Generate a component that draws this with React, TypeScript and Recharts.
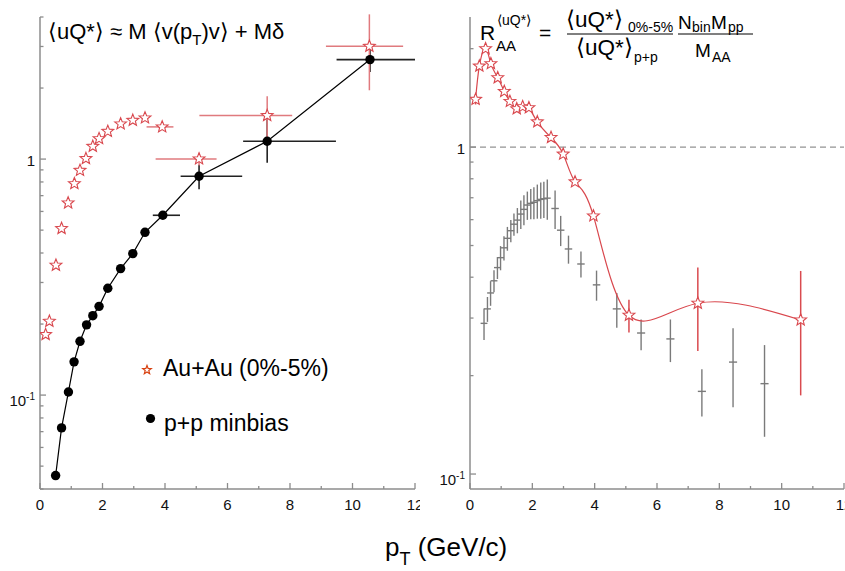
import React from 'react';
import { ComposedChart, Scatter, Line, XAxis, YAxis, ErrorBar, ReferenceLine } from 'recharts';

// ---------- Left panel: <uQ*> vs pT ----------
const auPt = [0.18, 0.3, 0.51, 0.69, 0.9, 1.1, 1.28, 1.47, 1.69, 1.89, 2.17, 2.58, 2.97, 3.36, 3.91, 5.09, 7.27, 10.54];
const auVal = [0.1805, 0.2055, 0.355, 0.508, 0.652, 0.787, 0.896, 1.005, 1.133, 1.221, 1.311, 1.41, 1.46, 1.495, 1.369, 1.002, 1.529, 3.005];
const auXErrLow = [0, 0, 0, 0, 0, 0, 0, 0, 0, 0, 0, 0, 0, 0, 0.5, 1.39, 2.17, 1.39];
const auXErrHigh = [0, 0, 0, 0, 0, 0, 0, 0, 0, 0, 0, 0, 0, 0, 0.36, 0.56, 0.8, 1.08];
const auYErrLow = [0, 0, 0, 0, 0, 0, 0, 0, 0, 0, 0, 0, 0, 0, 0, 0.062, 0.319, 1.048];
const auYErrHigh = [0, 0, 0, 0, 0, 0, 0, 0, 0, 0, 0, 0, 0, 0, 0, 0.063, 0.317, 1.1];

const ppPt = [0.5, 0.69, 0.91, 1.09, 1.28, 1.49, 1.69, 1.89, 2.17, 2.58, 2.97, 3.36, 3.93, 5.09, 7.27, 10.56];
const ppVal = [0.0456, 0.0726, 0.1031, 0.1383, 0.169, 0.1984, 0.217, 0.2377, 0.2836, 0.3436, 0.3977, 0.4895, 0.578, 0.8455, 1.19, 2.64];
const ppXErrLow = [0, 0, 0, 0, 0, 0, 0, 0, 0.07, 0.07, 0.07, 0.07, 0.32, 0.59, 0.77, 1.07];
const ppXErrHigh = [0, 0, 0, 0, 0, 0, 0, 0, 0.07, 0.07, 0.07, 0.07, 0.55, 1.38, 2.2, 1.44];
const ppYErrLow = [0, 0, 0, 0, 0, 0, 0, 0, 0, 0, 0, 0, 0, 0.1, 0.226, 0.3];
const ppYErrHigh = [0, 0, 0, 0, 0, 0, 0, 0, 0, 0, 0, 0, 0, 0.1, 0.28, 0.3];

// ---------- Right panel: R_AA ----------
const raaPt = [0.18, 0.3, 0.5, 0.67, 0.89, 1.1, 1.28, 1.5, 1.69, 1.89, 2.16, 2.6, 2.99, 3.37, 3.96, 5.1, 7.31, 10.61];
const raaVal = [1.4, 1.77, 2.0, 1.8, 1.63, 1.48, 1.38, 1.31, 1.33, 1.32, 1.195, 1.07, 0.952, 0.783, 0.616, 0.306, 0.333, 0.296];
const raaErr = [0.05, 0, 0, 0, 0, 0, 0, 0, 0, 0, 0, 0, 0, 0, 0, 0.035, 0.095, 0.122];

const grayPt = [0.45, 0.56, 0.66, 0.77, 0.88, 0.98, 1.09, 1.2, 1.31, 1.41, 1.52, 1.63, 1.73, 1.84, 1.95, 2.05, 2.16, 2.27, 2.37, 2.48, 2.73, 2.91, 3.16, 3.56, 4.06, 4.71, 5.49, 6.43, 7.44, 8.44, 9.45];
const grayVal = [0.289, 0.32, 0.358, 0.39, 0.428, 0.459, 0.492, 0.526, 0.555, 0.581, 0.598, 0.624, 0.645, 0.665, 0.673, 0.678, 0.686, 0.692, 0.695, 0.698, 0.649, 0.557, 0.488, 0.439, 0.379, 0.32, 0.27, 0.259, 0.179, 0.22, 0.189];
const grayErrLow = [0.032, 0.028, 0.031, 0.03, 0.033, 0.039, 0.042, 0.044, 0.043, 0.045, 0.053, 0.062, 0.068, 0.066, 0.071, 0.076, 0.082, 0.088, 0.088, 0.098, 0.087, 0.059, 0.048, 0.04, 0.04, 0.04, 0.031, 0.039, 0.029, 0.06, 0.059];
const grayErrHigh = [0.032, 0.028, 0.031, 0.03, 0.033, 0.039, 0.042, 0.044, 0.043, 0.045, 0.053, 0.062, 0.068, 0.066, 0.071, 0.076, 0.082, 0.088, 0.088, 0.098, 0.087, 0.059, 0.048, 0.04, 0.04, 0.038, 0.027, 0.038, 0.03, 0.059, 0.059];
const grayXErr = [0.11, 0.11, 0.11, 0.11, 0.11, 0.11, 0.11, 0.11, 0.11, 0.11, 0.11, 0.11, 0.11, 0.11, 0.11, 0.11, 0.11, 0.11, 0.11, 0.11, 0.12, 0.12, 0.12, 0.12, 0.12, 0.13, 0.13, 0.13, 0.13, 0.13, 0.13];

// ---------- Ticks ----------
const xTicks = [0, 1, 2, 3, 4, 5, 6, 7, 8, 9, 10, 11, 12];
const leftYTicks = [0.04, 0.05, 0.06, 0.07, 0.08, 0.09, 0.1, 0.2, 0.3, 0.4, 0.5, 0.6, 0.7, 0.8, 0.9, 1, 2, 3, 4];
const rightYTicks = [0.1, 0.2, 0.3, 0.4, 0.5, 0.6, 0.7, 0.8, 0.9, 1, 2];

const auData = auPt.map((x, i) => ({ x, y: auVal[i], ex: [auXErrLow[i], auXErrHigh[i]], ey: [auYErrLow[i], auYErrHigh[i]] }));
const ppData = ppPt.map((x, i) => ({ x, y: ppVal[i], ex: [ppXErrLow[i], ppXErrHigh[i]], ey: [ppYErrLow[i], ppYErrHigh[i]] }));
const raaData = raaPt.map((x, i) => ({ x, y: raaVal[i], ey: raaErr[i] }));
const grayData = grayPt.map((x, i) => ({ x, y: grayVal[i], ex: grayXErr[i], ey: [grayErrLow[i], grayErrHigh[i]] }));

const FONT = '"Liberation Sans", Arial, Helvetica, sans-serif';
const AXIS = '#8c8c8c';
const RED = '#d9474d';
const RED_LIGHT = '#e07a7e';

function starPath(cx: number, cy: number, R: number, r: number) {
  let d = '';
  for (let i = 0; i < 10; i++) {
    const rad = i % 2 === 0 ? R : r;
    const a = -Math.PI / 2 + (i * Math.PI) / 5;
    d += (i === 0 ? 'M' : 'L') + (cx + rad * Math.cos(a)).toFixed(2) + ',' + (cy + rad * Math.sin(a)).toFixed(2);
  }
  return d + 'Z';
}

const StarShape = (props: any) => {
  const { cx, cy } = props;
  if (cx == null || cy == null) return <g />;
  return <path d={starPath(cx, cy, 6.2, 2.7)} fill="#fff" stroke={RED} strokeWidth={1.1} />;
};

const DotShape = (props: any) => {
  const { cx, cy } = props;
  if (cx == null || cy == null) return <g />;
  return <circle cx={cx} cy={cy} r={4.7} fill="#000" />;
};

const NoShape = () => <g />;

const XTick = (props: any) => {
  const { x, y, payload } = props;
  const v = payload.value;
  const major = v % 2 === 0;
  return (
    <g>
      <line x1={x} x2={x} y1={y} y2={y - (major ? 6 : 3)} stroke={AXIS} strokeWidth={1.3} />
      {major && (
        <text x={x} y={y + 21} textAnchor="middle" fontSize={15} fontFamily={FONT} fill="#111">
          {v}
        </text>
      )}
    </g>
  );
};

const YTick = (props: any) => {
  const { x, y, payload } = props;
  const v = payload.value;
  const lg = Math.log10(v);
  const decade = Math.abs(lg - Math.round(lg)) < 1e-6;
  return (
    <g>
      <line x1={x} x2={x + (decade ? 6 : 3.5)} y1={y} y2={y} stroke={AXIS} strokeWidth={1.3} />
      {decade && v === 1 && (
        <text x={x - 5} y={y + 7} textAnchor="end" fontSize={15} fontFamily={FONT} fill="#111">
          1
        </text>
      )}
      {decade && v !== 1 && (
        <text x={x - 5} y={y + 10.5} textAnchor="end" fontSize={15} fontFamily={FONT} fill="#111">
          <tspan>10</tspan>
          <tspan dy={-6} fontSize={10}>-1</tspan>
        </text>
      )}
    </g>
  );
};

const axisLineStyle = { stroke: AXIS, strokeWidth: 1.5 };

function LeftPanel() {
  return (
    <ComposedChart width={420} height={571} margin={{ top: 17, right: 5, bottom: 52, left: 10 }}>
      <XAxis
        type="number"
        dataKey="x"
        domain={[0, 12]}
        ticks={xTicks}
        interval={0}
        height={30}
        tickSize={0}
        tickMargin={0}
        tickLine={false}
        axisLine={axisLineStyle}
        tick={<XTick />}
        allowDataOverflow
      />
      <YAxis
        type="number"
        dataKey="y"
        scale="log"
        domain={[0.04, 4]}
        ticks={leftYTicks}
        interval={0}
        width={30}
        tickSize={0}
        tickMargin={0}
        tickLine={false}
        axisLine={axisLineStyle}
        tick={<YTick />}
        allowDataOverflow
      />
      <Line data={ppData} dataKey="y" type="linear" stroke="#000" strokeWidth={1.2} dot={false} isAnimationActive={false} />
      <Scatter data={ppData} dataKey="y" shape={DotShape} isAnimationActive={false}>
        <ErrorBar dataKey="ex" direction="x" width={0} stroke="#222" strokeWidth={1.6} />
        <ErrorBar dataKey="ey" direction="y" width={0} stroke="#222" strokeWidth={1.6} />
      </Scatter>
      <Scatter data={auData} dataKey="y" shape={StarShape} isAnimationActive={false}>
        <ErrorBar dataKey="ex" direction="x" width={0} stroke={RED_LIGHT} strokeWidth={1.5} />
        <ErrorBar dataKey="ey" direction="y" width={0} stroke={RED_LIGHT} strokeWidth={1.5} />
      </Scatter>
    </ComposedChart>
  );
}

function RightPanel() {
  return (
    <ComposedChart width={425} height={571} margin={{ top: 17, right: 1, bottom: 52, left: 20 }}>
      <XAxis
        type="number"
        dataKey="x"
        domain={[0, 12]}
        ticks={xTicks}
        interval={0}
        height={30}
        tickSize={0}
        tickMargin={0}
        tickLine={false}
        axisLine={axisLineStyle}
        tick={<XTick />}
        allowDataOverflow
      />
      <YAxis
        type="number"
        dataKey="y"
        scale="log"
        domain={[0.09, 2.5]}
        ticks={rightYTicks}
        interval={0}
        width={30}
        tickSize={0}
        tickMargin={0}
        tickLine={false}
        axisLine={axisLineStyle}
        tick={<YTick />}
        allowDataOverflow
      />
      <ReferenceLine y={1} stroke="#777" strokeDasharray="6 4" strokeWidth={1} />
      <Scatter data={grayData} dataKey="y" shape={NoShape} isAnimationActive={false}>
        <ErrorBar dataKey="ex" direction="x" width={0} stroke="#7a7a7a" strokeWidth={1.4} />
        <ErrorBar dataKey="ey" direction="y" width={0} stroke="#7a7a7a" strokeWidth={1.4} />
      </Scatter>
      <Line data={raaData} dataKey="y" type="natural" stroke={RED} strokeWidth={1.2} dot={false} isAnimationActive={false} />
      <Scatter data={raaData} dataKey="y" shape={StarShape} isAnimationActive={false}>
        <ErrorBar dataKey="ey" direction="y" width={0} stroke="#d94a4f" strokeWidth={1.5} />
      </Scatter>
    </ComposedChart>
  );
}

function Overlay() {
  const t = { fontFamily: FONT, fill: '#000' } as const;
  return (
    <svg width={845} height={571} style={{ position: 'absolute', left: 0, top: 0, pointerEvents: 'none' }}>
      {/* left formula */}
      <text x={48} y={39} fontSize={22} {...t}>
        ⟨uQ*⟩ ≈ M ⟨v(p<tspan dy={6} fontSize={15}>T</tspan>
        <tspan dy={-6}>)v⟩ + Mδ</tspan>
      </text>
      {/* right formula */}
      <text x={480} y={40} fontSize={21} {...t}>R</text>
      <text x={497} y={25} fontSize={14} {...t}>⟨uQ*⟩</text>
      <text x={496} y={51} fontSize={15} {...t}>AA</text>
      <text x={539} y={40} fontSize={21} {...t}>=</text>
      <text x={566} y={27} fontSize={22.5} {...t}>⟨uQ*⟩</text>
      <text x={628} y={32} fontSize={14} {...t}>0%-5%</text>
      <line x1={567} x2={673} y1={34} y2={34} stroke="#000" strokeWidth={1} />
      <text x={576} y={55} fontSize={22.5} {...t}>⟨uQ*⟩</text>
      <text x={634} y={62} fontSize={14} {...t}>p+p</text>
      <text x={678} y={29} fontSize={19} {...t}>N</text>
      <text x={692} y={32} fontSize={14} {...t}>bin</text>
      <text x={711} y={29} fontSize={19} {...t}>M</text>
      <text x={728} y={32} fontSize={14} {...t}>pp</text>
      <line x1={678} x2={753} y1={34} y2={34} stroke="#000" strokeWidth={1} />
      <text x={695} y={57} fontSize={19} {...t}>M</text>
      <text x={712} y={62} fontSize={14} {...t}>AA</text>
      {/* legend */}
      <path d={starPath(147, 370, 4.5, 1.9)} fill="#fff" stroke="#d8400f" strokeWidth={1.2} />
      <text x={163} y={376} fontSize={23} {...t}>Au+Au (0%-5%)</text>
      <circle cx={150.5} cy={418.5} r={4.6} fill="#000" />
      <text x={164} y={431} fontSize={23} {...t}>p+p minbias</text>
      {/* x-axis title */}
      <text x={385} y={556} fontSize={26} {...t}>
        p<tspan dy={9} fontSize={18}>T</tspan>
        <tspan dy={-9}> (GeV/c)</tspan>
      </text>
    </svg>
  );
}

export default function App() {
  return (
    <div style={{ position: 'absolute', left: 0, top: 0, width: 845, height: 571, background: '#fff', overflow: 'hidden' }}>
      <div style={{ position: 'absolute', left: 0, top: 0 }}>
        <LeftPanel />
      </div>
      <div style={{ position: 'absolute', left: 420, top: 0 }}>
        <RightPanel />
      </div>
      <Overlay />
    </div>
  );
}
